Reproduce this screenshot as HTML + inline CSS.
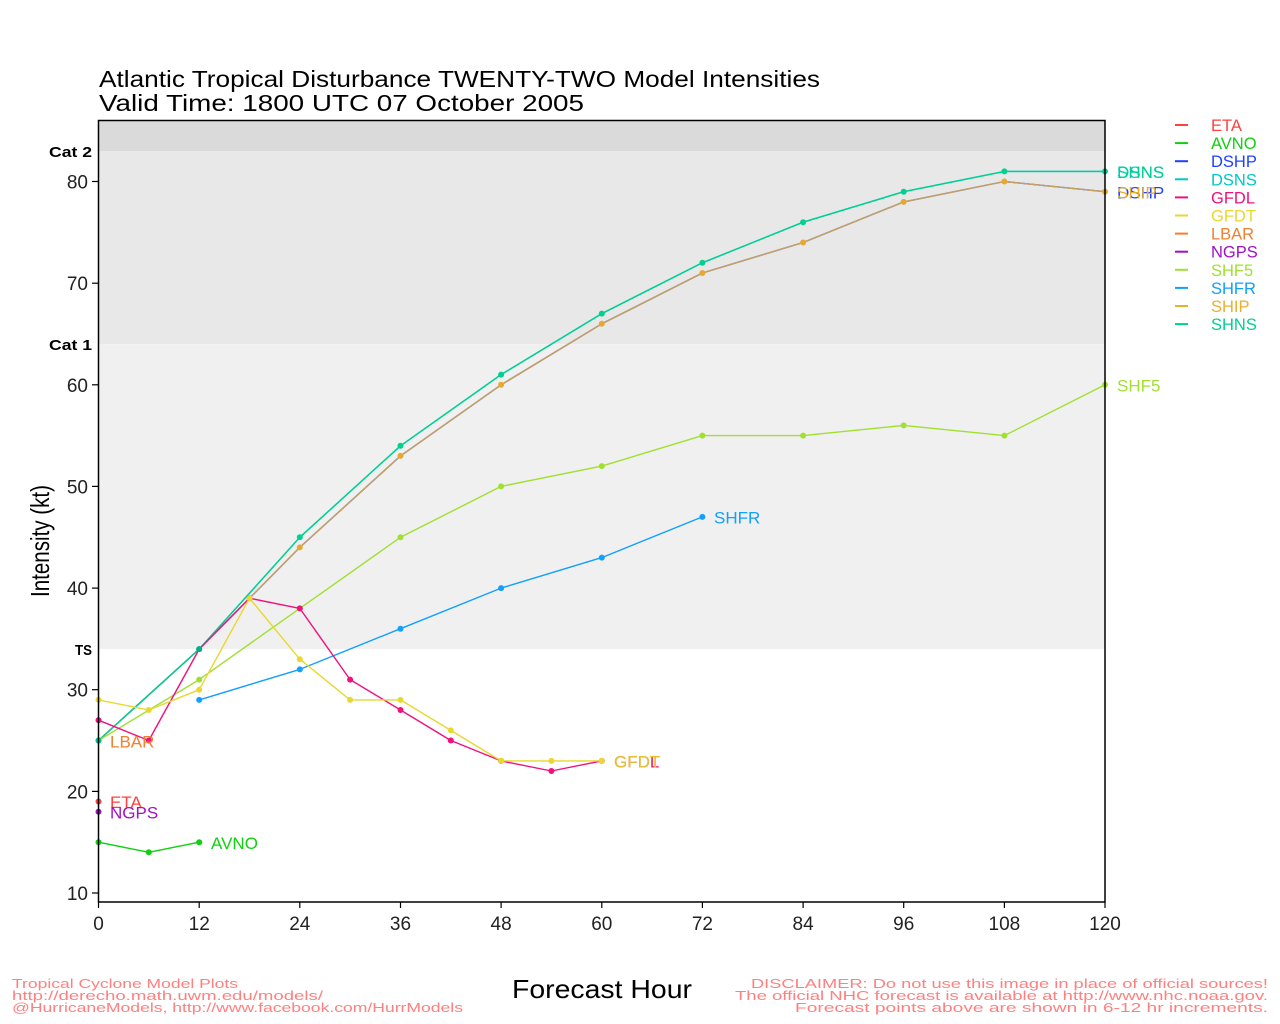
<!DOCTYPE html>
<html><head><meta charset="utf-8"><style>
html,body{margin:0;padding:0;background:#fff;}
svg{display:block;font-family:"Liberation Sans",sans-serif;}
</style></head><body>
<svg width="1280" height="1024" viewBox="0 0 1280 1024" xmlns="http://www.w3.org/2000/svg">
<rect x="0" y="0" width="1280" height="1024" fill="#fff"/>
<!-- bands -->
<rect x="98.5" y="120.5" width="1006.5" height="30.5" fill="#dadada"/>
<rect x="98.5" y="151" width="1006.5" height="193.1" fill="#e8e8e8"/>
<rect x="98.5" y="344.1" width="1006.5" height="305" fill="#f0f0f0"/>
<!-- title -->
<text x="99" y="87" font-size="23" fill="#000" textLength="721" lengthAdjust="spacingAndGlyphs">Atlantic Tropical Disturbance TWENTY-TWO Model Intensities</text>
<text x="99" y="111" font-size="23" fill="#000" textLength="485" lengthAdjust="spacingAndGlyphs">Valid Time: 1800 UTC 07 October 2005</text>
<!-- category labels -->
<g font-size="15" font-weight="bold" fill="#000">
<text x="49" y="157" textLength="43" lengthAdjust="spacingAndGlyphs">Cat 2</text>
<text x="49" y="350" textLength="43" lengthAdjust="spacingAndGlyphs">Cat 1</text>
<text x="75" y="655" textLength="17" lengthAdjust="spacingAndGlyphs">TS</text>
</g>
<!-- y ticks -->
<g stroke="#000" stroke-width="1.2">
<line x1="92" y1="893" x2="98.5" y2="893"/>
<line x1="92" y1="791.4" x2="98.5" y2="791.4"/>
<line x1="92" y1="689.7" x2="98.5" y2="689.7"/>
<line x1="92" y1="588.1" x2="98.5" y2="588.1"/>
<line x1="92" y1="486.4" x2="98.5" y2="486.4"/>
<line x1="92" y1="384.8" x2="98.5" y2="384.8"/>
<line x1="92" y1="283.2" x2="98.5" y2="283.2"/>
<line x1="92" y1="181.5" x2="98.5" y2="181.5"/>
</g>
<g font-size="19" text-anchor="end" fill="#222">
<text x="88" y="900">10</text>
<text x="88" y="798.4">20</text>
<text x="88" y="696.7">30</text>
<text x="88" y="595.1">40</text>
<text x="88" y="493.4">50</text>
<text x="88" y="391.8">60</text>
<text x="88" y="290.2">70</text>
<text x="88" y="188.5">80</text>
</g>
<!-- x ticks -->
<g stroke="#000" stroke-width="1.2">
<line x1="98.5" y1="902" x2="98.5" y2="908"/>
<line x1="199.2" y1="902" x2="199.2" y2="908"/>
<line x1="299.8" y1="902" x2="299.8" y2="908"/>
<line x1="400.5" y1="902" x2="400.5" y2="908"/>
<line x1="501.1" y1="902" x2="501.1" y2="908"/>
<line x1="601.8" y1="902" x2="601.8" y2="908"/>
<line x1="702.4" y1="902" x2="702.4" y2="908"/>
<line x1="803.1" y1="902" x2="803.1" y2="908"/>
<line x1="903.7" y1="902" x2="903.7" y2="908"/>
<line x1="1004.4" y1="902" x2="1004.4" y2="908"/>
<line x1="1105" y1="902" x2="1105" y2="908"/>
</g>
<g font-size="19" text-anchor="middle" fill="#222">
<text x="98.5" y="930">0</text>
<text x="199.2" y="930">12</text>
<text x="299.8" y="930">24</text>
<text x="400.5" y="930">36</text>
<text x="501.1" y="930">48</text>
<text x="601.8" y="930">60</text>
<text x="702.4" y="930">72</text>
<text x="803.1" y="930">84</text>
<text x="903.7" y="930">96</text>
<text x="1004.4" y="930">108</text>
<text x="1105" y="930">120</text>
</g>
<!-- axis titles -->
<text x="0" y="0" font-size="26" fill="#000" transform="translate(49,597) rotate(-90)" textLength="112" lengthAdjust="spacingAndGlyphs">Intensity (kt)</text>
<text x="512" y="998" font-size="26" fill="#000" textLength="180" lengthAdjust="spacingAndGlyphs">Forecast Hour</text>
<!-- series lines -->
<g fill="none" stroke-width="1.4" stroke-linejoin="round">
<polyline stroke="#00c8c8" points="98.5,740.5 199.2,649.1 299.8,537.3 400.5,445.8 501.1,374.6 601.8,313.6 702.4,262.8 803.1,222.2 903.7,191.7 1004.4,171.4 1105,171.4"/>
<polyline stroke="#2040ff" points="98.5,740.5 199.2,649.1 299.8,547.4 400.5,455.9 501.1,384.8 601.8,323.8 702.4,273.0 803.1,242.5 903.7,201.9 1004.4,181.5 1105,191.7"/>
<polyline stroke="#c9a25a" points="98.5,740.5 199.2,649.1 299.8,547.4 400.5,455.9 501.1,384.8 601.8,323.8 702.4,273.0 803.1,242.5 903.7,201.9 1004.4,181.5 1105,191.7"/>
<polyline stroke="#00d090" points="98.5,740.5 199.2,649.1 299.8,537.3 400.5,445.8 501.1,374.6 601.8,313.6 702.4,262.8 803.1,222.2 903.7,191.7 1004.4,171.4 1105,171.4"/>
<polyline stroke="#a0e030" points="98.5,740.5 199.2,679.6 299.8,608.4 400.5,537.3 501.1,486.4 601.8,466.1 702.4,435.6 803.1,435.6 903.7,425.4 1004.4,435.6 1105,384.8"/>
<polyline stroke="#10a0ff" points="199.2,699.9 299.8,669.4 400.5,628.7 501.1,588.1 601.8,557.6 702.4,516.9"/>
<polyline stroke="#f0107f" points="98.5,720.2 148.8,740.5 199.2,649.1 249.5,598.2 299.8,608.4 350.1,679.6 400.5,710.0 450.8,740.5 501.1,760.9 551.4,771.0 601.8,760.9"/>
<polyline stroke="#e8d830" points="98.5,699.9 148.8,710.0 199.2,689.7 249.5,598.2 299.8,659.2 350.1,699.9 400.5,699.9 450.8,730.4 501.1,760.9 551.4,760.9 601.8,760.9"/>
<polyline stroke="#10d010" points="98.5,842.2 148.8,852.3 199.2,842.2"/>
</g>
<!-- markers -->
<g fill="#00d090">
<circle cx="98.5" cy="740.5" r="3"/><circle cx="199.2" cy="649.1" r="3"/><circle cx="299.8" cy="537.3" r="3"/><circle cx="400.5" cy="445.8" r="3"/><circle cx="501.1" cy="374.6" r="3"/><circle cx="601.8" cy="313.6" r="3"/><circle cx="702.4" cy="262.8" r="3"/><circle cx="803.1" cy="222.2" r="3"/><circle cx="903.7" cy="191.7" r="3"/><circle cx="1004.4" cy="171.4" r="3"/><circle cx="1105" cy="171.4" r="3"/>
</g>
<g fill="#e8a830">
<circle cx="299.8" cy="547.4" r="3"/><circle cx="400.5" cy="455.9" r="3"/><circle cx="501.1" cy="384.8" r="3"/><circle cx="601.8" cy="323.8" r="3"/><circle cx="702.4" cy="273.0" r="3"/><circle cx="803.1" cy="242.5" r="3"/><circle cx="903.7" cy="201.9" r="3"/><circle cx="1004.4" cy="181.5" r="3"/><circle cx="1105" cy="191.7" r="3"/>
</g>
<g fill="#a0e030">
<circle cx="199.2" cy="679.6" r="3"/><circle cx="299.8" cy="608.4" r="3"/><circle cx="400.5" cy="537.3" r="3"/><circle cx="501.1" cy="486.4" r="3"/><circle cx="601.8" cy="466.1" r="3"/><circle cx="702.4" cy="435.6" r="3"/><circle cx="803.1" cy="435.6" r="3"/><circle cx="903.7" cy="425.4" r="3"/><circle cx="1004.4" cy="435.6" r="3"/><circle cx="1105" cy="384.8" r="3"/>
</g>
<g fill="#10a0ff">
<circle cx="199.2" cy="699.9" r="3"/><circle cx="299.8" cy="669.4" r="3"/><circle cx="400.5" cy="628.7" r="3"/><circle cx="501.1" cy="588.1" r="3"/><circle cx="601.8" cy="557.6" r="3"/><circle cx="702.4" cy="516.9" r="3"/>
</g>
<g fill="#f0107f">
<circle cx="98.5" cy="720.2" r="3"/><circle cx="148.8" cy="740.5" r="3"/><circle cx="249.5" cy="598.2" r="3"/><circle cx="299.8" cy="608.4" r="3"/><circle cx="350.1" cy="679.6" r="3"/><circle cx="400.5" cy="710.0" r="3"/><circle cx="450.8" cy="740.5" r="3"/><circle cx="501.1" cy="760.9" r="3"/><circle cx="551.4" cy="771.0" r="3"/><circle cx="601.8" cy="760.9" r="3"/>
</g>
<g fill="#e8d830">
<circle cx="98.5" cy="699.9" r="3"/><circle cx="148.8" cy="710.0" r="3"/><circle cx="199.2" cy="689.7" r="3"/><circle cx="249.5" cy="598.2" r="3"/><circle cx="299.8" cy="659.2" r="3"/><circle cx="350.1" cy="699.9" r="3"/><circle cx="400.5" cy="699.9" r="3"/><circle cx="450.8" cy="730.4" r="3"/><circle cx="501.1" cy="760.9" r="3"/><circle cx="551.4" cy="760.9" r="3"/><circle cx="601.8" cy="760.9" r="3"/>
</g>
<g fill="#10d010">
<circle cx="98.5" cy="842.2" r="3"/><circle cx="148.8" cy="852.3" r="3"/><circle cx="199.2" cy="842.2" r="3"/>
</g>
<circle cx="98.5" cy="801.5" r="3" fill="#ff4040"/>
<circle cx="98.5" cy="811.7" r="3" fill="#a010c8"/>
<circle cx="98.5" cy="740.5" r="3" fill="#00c090"/>
<circle cx="199.2" cy="649.1" r="3" fill="#00b080"/>
<!-- frame -->
<rect x="98.5" y="120.5" width="1006.5" height="781.5" fill="none" stroke="#000" stroke-width="1.5"/>
<!-- series end labels -->
<g font-size="17">
<text x="110" y="747.5" fill="#f08030">LBAR</text>
<text x="110" y="808" fill="#ff4040">ETA</text>
<text x="110" y="818.5" fill="#a010c8">NGPS</text>
<text x="211" y="849" fill="#10d010">AVNO</text>
<text x="614" y="767.5" fill="#f0107f">GFDL</text>
<text x="614" y="767.5" fill="#e8d830">GFDT</text>
<text x="614" y="767.5" fill="#e8b030" opacity="0.6">GFDT</text>
<text x="714" y="523.5" fill="#10a0ff">SHFR</text>
<text x="1117" y="391.5" fill="#a0e030">SHF5</text>
<text x="1117" y="178" fill="#00c8c8">DSNS</text>
<text x="1117" y="178" fill="#00d090">SHNS</text>
<text x="1117" y="198.5" fill="#2040ff">DSHP</text>
<text x="1117" y="198.5" fill="#e8b030">SHIP</text>
</g>
<!-- legend -->
<g stroke-width="2">
<line x1="1175" y1="125" x2="1188" y2="125" stroke="#ff4040"/>
<line x1="1175" y1="143.1" x2="1188" y2="143.1" stroke="#10d010"/>
<line x1="1175" y1="161.2" x2="1188" y2="161.2" stroke="#2040ff"/>
<line x1="1175" y1="179.3" x2="1188" y2="179.3" stroke="#00c8c8"/>
<line x1="1175" y1="197.4" x2="1188" y2="197.4" stroke="#f0107f"/>
<line x1="1175" y1="215.5" x2="1188" y2="215.5" stroke="#e8d830"/>
<line x1="1175" y1="233.6" x2="1188" y2="233.6" stroke="#f08030"/>
<line x1="1175" y1="251.7" x2="1188" y2="251.7" stroke="#a010c8"/>
<line x1="1175" y1="269.8" x2="1188" y2="269.8" stroke="#a0e030"/>
<line x1="1175" y1="287.9" x2="1188" y2="287.9" stroke="#10a0ff"/>
<line x1="1175" y1="306" x2="1188" y2="306" stroke="#e8b030"/>
<line x1="1175" y1="324.1" x2="1188" y2="324.1" stroke="#00d090"/>
</g>
<g font-size="16.5">
<text x="1211" y="131" fill="#ff4040">ETA</text>
<text x="1211" y="149.1" fill="#10d010">AVNO</text>
<text x="1211" y="167.2" fill="#2040ff">DSHP</text>
<text x="1211" y="185.3" fill="#00c8c8">DSNS</text>
<text x="1211" y="203.4" fill="#f0107f">GFDL</text>
<text x="1211" y="221.5" fill="#e8d830">GFDT</text>
<text x="1211" y="239.6" fill="#f08030">LBAR</text>
<text x="1211" y="257.7" fill="#a010c8">NGPS</text>
<text x="1211" y="275.8" fill="#a0e030">SHF5</text>
<text x="1211" y="293.9" fill="#10a0ff">SHFR</text>
<text x="1211" y="312" fill="#e8b030">SHIP</text>
<text x="1211" y="330.1" fill="#00d090">SHNS</text>
</g>
<!-- footer -->
<g font-size="13" fill="#ff8080">
<text x="12" y="988" textLength="226" lengthAdjust="spacingAndGlyphs">Tropical Cyclone Model Plots</text>
<text x="12" y="1000" textLength="311" lengthAdjust="spacingAndGlyphs">http://derecho.math.uwm.edu/models/</text>
<text x="12" y="1012" textLength="451" lengthAdjust="spacingAndGlyphs">@HurricaneModels, http://www.facebook.com/HurrModels</text>
<text x="751" y="988" textLength="517" lengthAdjust="spacingAndGlyphs">DISCLAIMER: Do not use this image in place of official sources!</text>
<text x="735" y="1000" textLength="533" lengthAdjust="spacingAndGlyphs">The official NHC forecast is available at http://www.nhc.noaa.gov.</text>
<text x="795" y="1012" textLength="473" lengthAdjust="spacingAndGlyphs">Forecast points above are shown in 6-12 hr increments.</text>
</g>
</svg>
</body></html>
